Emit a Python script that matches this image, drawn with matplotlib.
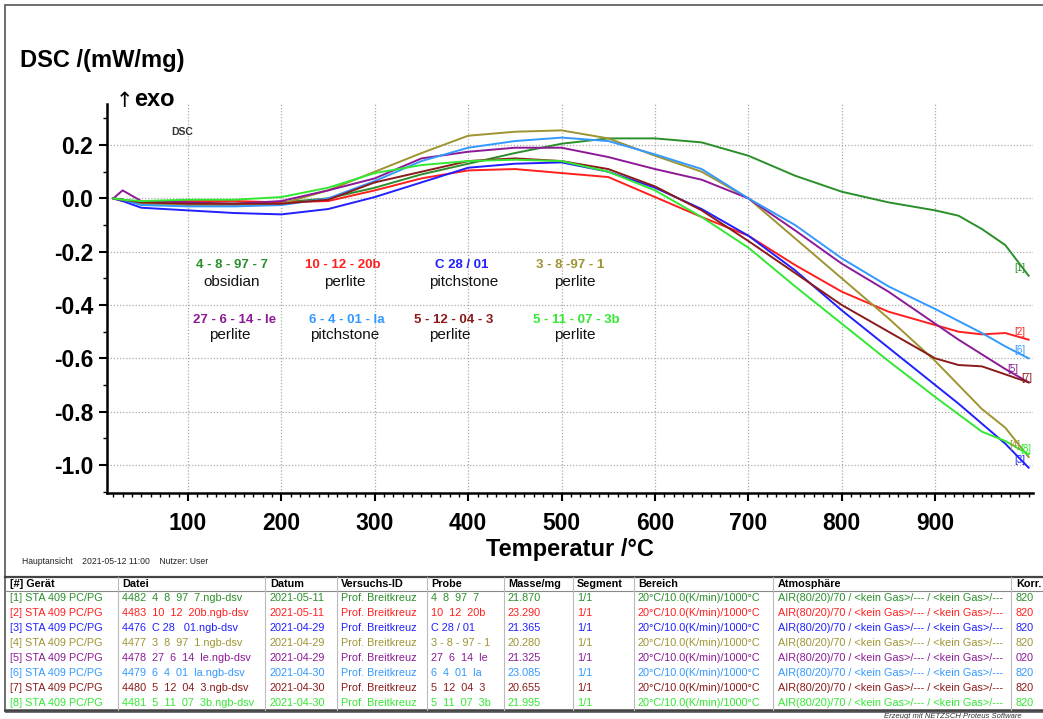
import matplotlib
matplotlib.use("Agg")
import matplotlib.pyplot as plt
from matplotlib.ticker import MultipleLocator, FormatStrFormatter
from matplotlib.patches import Rectangle
from matplotlib.lines import Line2D

plt.rcParams['font.family'] = ['Liberation Sans', 'DejaVu Sans']
plt.rcParams['axes.unicode_minus'] = False

W, H = 1043, 719

# temperature /°C and DSC /(mW/mg)
temp = [20, 30, 50, 100, 150, 200, 250, 300, 350, 400, 450, 500, 550, 600,
        650, 700, 750, 800, 850, 900, 925, 950, 975, 1000]
dsc_1 = [0.0, -0.005, -0.02, -0.02, -0.02, -0.015, 0.0, 0.04, 0.09, 0.13, 0.17, 0.205,
         0.225, 0.225, 0.21, 0.16, 0.085, 0.025, -0.015, -0.045, -0.065, -0.115, -0.175, -0.29]
dsc_2 = [0.0, -0.01, -0.01, -0.01, -0.01, -0.015, -0.01, 0.03, 0.075, 0.105, 0.11, 0.095,
         0.08, 0.005, -0.07, -0.14, -0.25, -0.35, -0.425, -0.475, -0.5, -0.51, -0.505, -0.53]
dsc_3 = [0.0, -0.01, -0.035, -0.045, -0.055, -0.06, -0.04, 0.005, 0.06, 0.115, 0.13, 0.135,
         0.1, 0.04, -0.04, -0.14, -0.27, -0.42, -0.56, -0.7, -0.77, -0.845, -0.92, -1.01]
dsc_4 = [0.0, -0.005, -0.02, -0.025, -0.025, -0.02, 0.03, 0.1, 0.17, 0.235, 0.25, 0.255,
         0.225, 0.16, 0.1, 0.0, -0.15, -0.3, -0.45, -0.61, -0.7, -0.79, -0.86, -0.97]
dsc_5 = [0.0, 0.03, -0.01, -0.015, -0.02, -0.01, 0.03, 0.075, 0.15, 0.175, 0.19, 0.19,
         0.155, 0.11, 0.07, 0.0, -0.12, -0.245, -0.35, -0.47, -0.53, -0.585, -0.64, -0.69]
dsc_6 = [0.0, -0.005, -0.025, -0.03, -0.03, -0.025, 0.0, 0.065, 0.14, 0.19, 0.215, 0.228,
         0.215, 0.165, 0.11, 0.0, -0.1, -0.225, -0.33, -0.415, -0.46, -0.505, -0.555, -0.6]
dsc_7 = [0.0, -0.005, -0.015, -0.02, -0.02, -0.02, -0.005, 0.06, 0.1, 0.14, 0.15, 0.14,
         0.11, 0.045, -0.045, -0.16, -0.28, -0.4, -0.5, -0.6, -0.625, -0.63, -0.66, -0.69]
dsc_8 = [0.0, -0.005, -0.01, -0.005, -0.005, 0.005, 0.04, 0.095, 0.125, 0.14, 0.145, 0.14,
         0.1, 0.03, -0.07, -0.185, -0.33, -0.47, -0.61, -0.745, -0.81, -0.875, -0.91, -0.96]
series = [dsc_1, dsc_2, dsc_3, dsc_4, dsc_5, dsc_6, dsc_7, dsc_8]

colors = ['#2a8f2a', '#ff1f1f', '#2020ff', '#9e9432', '#8c1a96', '#3399ff', '#8b1a1a', '#33e833']
codes = ["4 - 8 - 97 - 7", "10 - 12 - 20b", "C 28 / 01", "3 - 8 -97 - 1",
         "27 - 6 - 14 - le", "6 - 4 - 01 - la", "5 - 12 - 04 - 3", "5 - 11 - 07 - 3b"]
rocks = ["obsidian", "perlite", "pitchstone", "perlite",
         "perlite", "pitchstone", "perlite", "perlite"]

# table below the chart
devices = ["[%d] STA 409 PC/PG" % (i + 1) for i in range(8)]
files = ["4482  4  8  97  7.ngb-dsv", "4483  10  12  20b.ngb-dsv", "4476  C 28   01.ngb-dsv",
         "4477  3  8  97  1.ngb-dsv", "4478  27  6  14  le.ngb-dsv", "4479  6  4  01  la.ngb-dsv",
         "4480  5  12  04  3.ngb-dsv", "4481  5  11  07  3b.ngb-dsv"]
dates = ["2021-05-11", "2021-05-11", "2021-04-29", "2021-04-29",
         "2021-04-29", "2021-04-30", "2021-04-30", "2021-04-30"]
ids = ["Prof. Breitkreuz"] * 8
probes = ["4  8  97  7", "10  12  20b", "C 28 / 01", "3 - 8 - 97 - 1",
          "27  6  14  le", "6  4  01  la", "5  12  04  3", "5  11  07  3b"]
masses = ["21.870", "23.290", "21.365", "20.280", "21.325", "23.085", "20.655", "21.995"]
segments = ["1/1"] * 8
ranges = ["20°C/10.0(K/min)/1000°C"] * 8
atmos = ["AIR(80/20)/70 / <kein Gas>/--- / <kein Gas>/---"] * 8
korr = ["820", "820", "820", "820", "020", "820", "820", "820"]
headers = ["[#] Gerät", "Datei", "Datum", "Versuchs-ID", "Probe", "Masse/mg",
           "Segment", "Bereich", "Atmosphäre", "Korr."]


def fx(px):
    return px / W


def fy(py):
    return 1 - py / H


fig = plt.figure(figsize=(W / 100, H / 100), dpi=100)
ax = fig.add_axes([fx(107), fy(493), fx(1033) - fx(107), fy(104) - fy(493)])

# small offsets so the stacked end tags [4]/[8] and [5]/[7] stay readable
tag_dx = [0, 0, 0, -6, -8, 0, 7, 6]
tag_dy = [0.03, 0.03, 0.03, 0.045, 0.05, 0.03, 0.015, 0.02]
for i, vals in enumerate(series):
    ax.plot(temp, vals, color=colors[i], lw=1.4, zorder=3 + i)
    ax.text(temp[-1] - 9 + tag_dx[i], vals[-1] + tag_dy[i], "[%d]" % (i + 1),
            color=colors[i], fontsize=7, ha='center', va='center', zorder=12)

ax.set_xlim(13.3, 1004.7)
ax.set_ylim(-1.105, 0.354)

ax.xaxis.set_minor_locator(MultipleLocator(10))
ax.yaxis.set_minor_locator(MultipleLocator(0.1))
ax.yaxis.set_major_formatter(FormatStrFormatter('%.1f'))
ax.set_xticks([100, 200, 300, 400, 500, 600, 700, 800, 900])
ax.set_yticks([-1.0, -0.8, -0.6, -0.4, -0.2, 0.0, 0.2])

ax.grid(True, which='major', linestyle=(0, (1, 1.5)), color='#aaaaaa', lw=0.9)
for s in ['top', 'right']:
    ax.spines[s].set_visible(False)
for s in ['left', 'bottom']:
    ax.spines[s].set_linewidth(1.8)

ax.tick_params(axis='both', which='major', length=6, width=1.5, labelsize=16.5, pad=4)
ax.tick_params(axis='x', which='major', pad=8)
ax.tick_params(axis='both', which='minor', length=3, width=1.0)
for lab in ax.get_xticklabels() + ax.get_yticklabels():
    lab.set_fontweight('bold')

ax.set_xlabel("Temperatur /°C", fontsize=17, fontweight='bold', labelpad=2)

# sample captions
code_pos = [(147, -0.25), (266, -0.25), (393, -0.25), (509, -0.25),
            (150, -0.456), (270, -0.456), (384, -0.456), (516, -0.456)]
name_pos = [(147, -0.314), (268, -0.314), (395, -0.314), (514, -0.314),
            (145, -0.513), (268, -0.513), (380, -0.513), (514, -0.513)]
for i in range(8):
    ax.text(code_pos[i][0], code_pos[i][1], codes[i], color=colors[i], fontsize=9.5,
            fontweight='bold', ha='center', va='center', zorder=15)
    ax.text(name_pos[i][0], name_pos[i][1], rocks[i], color='#111111', fontsize=11,
            ha='center', va='center', zorder=15)

ax.text(94, 0.248, "DSC", fontsize=7.5, fontweight='bold', color='#333333',
        ha='center', va='center')

fig.text(fx(20), fy(60), "DSC /(mW/mg)", fontsize=17, fontweight='bold', va='center')
fig.text(fx(116), fy(101), "\u2191", fontsize=15, va='center', family=['DejaVu Sans'])
fig.text(fx(134), fy(100), "exo", fontsize=17, fontweight='bold', va='center')

# outer frame
fig.add_artist(Rectangle((fx(5), fy(712)), fx(1050) - fx(5), fy(5) - fy(712),
                         transform=fig.transFigure, fill=False, ec='#555555', lw=1.2))

fig.text(fx(22), fy(562), "Hauptansicht    2021-05-12 11:00    Nutzer: User",
         fontsize=6.2, va='center', color='#222222')

# table
col_x = [10, 122, 270, 341, 431, 508, 577, 638, 778, 1016]
col_sep = [118, 265, 337, 427, 504, 573, 634, 773, 1011]
row_y = [598, 613, 628, 643, 658, 673, 688, 703]
fig.add_artist(Line2D([fx(5), fx(1043)], [fy(577), fy(577)], transform=fig.transFigure,
                      color='#444444', lw=1.6))
fig.add_artist(Line2D([fx(5), fx(1043)], [fy(591), fy(591)], transform=fig.transFigure,
                      color='#888888', lw=0.8))
fig.add_artist(Line2D([fx(5), fx(1043)], [fy(710), fy(710)], transform=fig.transFigure,
                      color='#444444', lw=1.8))
for sx in col_sep:
    fig.add_artist(Line2D([fx(sx), fx(sx)], [fy(577), fy(710)], transform=fig.transFigure,
                          color='#bbbbbb', lw=0.8))

for j, h in enumerate(headers):
    fig.text(fx(col_x[j]), fy(584), h, fontsize=7.8, fontweight='bold', va='center')

columns = [devices, files, dates, ids, probes, masses, segments, ranges, atmos, korr]
for i in range(8):
    for j, col in enumerate(columns):
        fig.text(fx(col_x[j]), fy(row_y[i]), col[i], fontsize=7.8, color=colors[i],
                 va='center')

fig.text(fx(884), fy(717), "Erzeugt mit NETZSCH Proteus Software", fontsize=5.5,
         style='italic', va='center', color='#333333')

fig.savefig("out.png", dpi=100)
